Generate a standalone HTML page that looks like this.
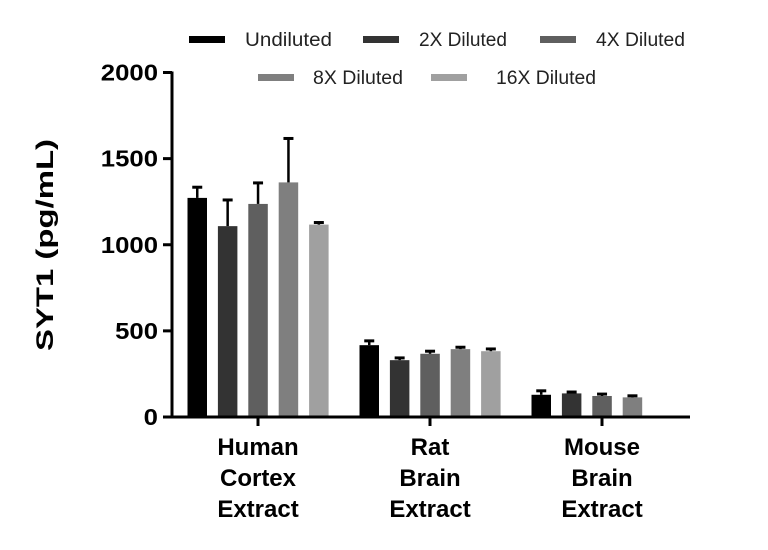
<!DOCTYPE html>
<html><head><meta charset="utf-8"><style>
html,body{margin:0;padding:0;background:#fff;}
svg{display:block;font-family:"Liberation Sans",sans-serif;}
</style></head><body>
<svg id="chart" width="768" height="550" viewBox="0 0 768 550" xmlns="http://www.w3.org/2000/svg"></svg>
<script>
const categories=[["Human","Cortex","Extract"],["Rat","Brain","Extract"],["Mouse","Brain","Extract"]];
const seriesNames=["Undiluted","2X Diluted","4X Diluted","8X Diluted","16X Diluted"];
const undiluted=[1272,417,129];
const diluted2x=[1108,330,137];
const diluted4x=[1237,367,122];
const diluted8x=[1362,394,114];
const diluted16x=[1117,382,null];
const err_undiluted=[62,25,23];
const err_2x=[152,13,8];
const err_4x=[122,15,11];
const err_8x=[255,11,9];
const err_16x=[12,13,null];
const yTicks=[0,500,1000,1500,2000];

const series=[undiluted,diluted2x,diluted4x,diluted8x,diluted16x];
const errs=[err_undiluted,err_2x,err_4x,err_8x,err_16x];
const colors=["#000000","#333333","#5f5f5f","#7f7f7f","#a0a0a0"];
const NS="http://www.w3.org/2000/svg";
const svg=document.getElementById('chart');
const x0=172,x1=690,y0=417,yTop=72.5,yMax=2000;
const groupW=172,barStep=30.4,barW=19.5;
function yScale(v){return y0-(v/yMax)*(y0-yTop);}
function groupCenter(i){return x0+groupW*(i+0.5);}
function barX(g,s){return groupCenter(g)-70.5+s*barStep;}
function mk(tag,attrs,parent){const e=document.createElementNS(NS,tag);for(const k in attrs)e.setAttribute(k,attrs[k]);(parent||svg).appendChild(e);return e;}

series.forEach((arr,s)=>{arr.forEach((v,g)=>{
  if(v==null)return;
  const bx=barX(g,s);
  const r=mk('rect',{x:bx,y:yScale(v),width:barW,height:y0-yScale(v),fill:colors[s]});
  
  
  const e=errs[s][g];
  if(e!=null){
    const cx=bx+barW/2;
    const l=mk('line',{x1:cx,x2:cx,y1:yScale(v),y2:yScale(v+e),stroke:'#000','stroke-width':2.5});
    
    
    const c=mk('line',{x1:cx-5,x2:cx+5,y1:yScale(v+e),y2:yScale(v+e),stroke:'#000','stroke-width':3});
    
    
  }
});});

const ya=mk('line',{x1:x0,x2:x0,y1:yTop-1,y2:y0+1.5,stroke:'#000','stroke-width':3});


const xa=mk('line',{x1:x0-1.5,x2:x1,y1:y0,y2:y0,stroke:'#000','stroke-width':3});


yTicks.forEach(t=>{
  const y=yScale(t);
  const tk=mk('line',{x1:x0-9,x2:x0,y1:y,y2:y,stroke:'#000','stroke-width':3});
  
  
  const s=String(t);
  const tx=mk('text',{x:x0-14,y:y+8,'text-anchor':'end','font-size':23,'font-weight':'bold',fill:'#000',textLength:s.length*14.3,lengthAdjust:'spacingAndGlyphs'});
  tx.textContent=s;
  
  
});
categories.forEach((c,g)=>{
  const cx=groupCenter(g);
  const tk=mk('line',{x1:cx,x2:cx,y1:y0,y2:y0+9,stroke:'#000','stroke-width':3});
  
  
  c.forEach((w,i)=>{
    const tx=mk('text',{x:cx,y:455+i*31,'text-anchor':'middle','font-size':24,'font-weight':'bold',fill:'#000'});
    tx.textContent=w;
    
    
  });
});
const yt=mk('text',{x:0,y:0,transform:'translate(53,245) rotate(-90)','text-anchor':'middle','font-size':24,'font-weight':'bold',fill:'#000',textLength:212,lengthAdjust:'spacingAndGlyphs'});
yt.textContent='SYT1 (pg/mL)';



const legPos=[[189,36,245,87],[363,36,419,88],[540,36,596,89],[258,74,313,90],[431,74,496,100]];
seriesNames.forEach((n,s)=>{
  const p=legPos[s];
  const g=mk('g',{});
  
  
  mk('rect',{x:p[0],y:p[1],width:36,height:7,fill:colors[s]},g);
  const t=mk('text',{x:p[2],y:p[1]+10,'font-size':19,fill:'#222',textLength:p[3],lengthAdjust:'spacingAndGlyphs'},g);
  t.textContent=n;
});
</script>
</body></html>
